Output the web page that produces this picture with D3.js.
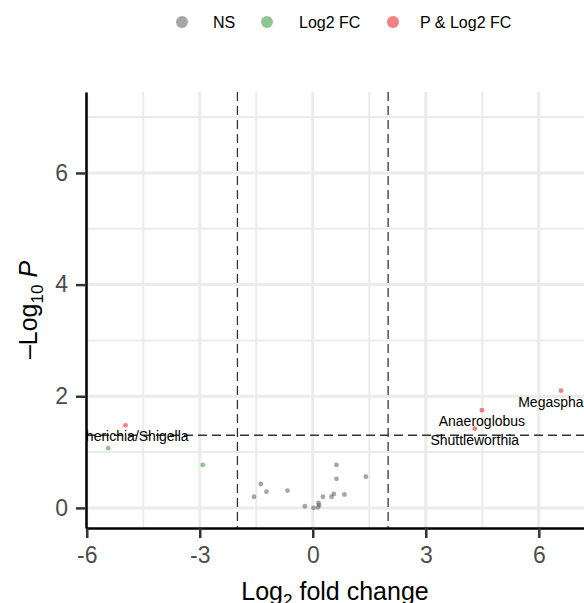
<!DOCTYPE html>
<html>
<head>
<meta charset="utf-8">
<script src="https://cdn.jsdelivr.net/npm/d3@7"></script>
<style>
  body { margin: 0; background: #fff; }
  svg { font-family: "Liberation Sans", Arial, Helvetica, sans-serif; display: block; }
</style>
</head>
<body>
<div id="chart"></div>
<script>
// data
var nsFC   = [0.63, -1.38, 1.41, 0.63, -1.56, -1.23, -0.67, 0.84, 0.56, 0.50, 0.27, 0.15, 0.14, -0.21, 0.02, 0.17];
var nsLogP = [0.77, 0.43, 0.56, 0.52, 0.20, 0.29, 0.31, 0.24, 0.25, 0.20, 0.20, 0.09, 0.01, 0.03, 0.00, 0.05];

var fcFC   = [-5.43, -2.92];
var fcLogP = [1.07, 0.77];

var sigFC    = [-4.97, 6.59, 4.49, 4.30];
var sigLogP  = [1.48, 2.10, 1.75, 1.42];
var sigLabel = ["Escherichia/Shigella", "Megasphaera", "Anaeroglobus", "Shuttleworthia"];

var legendLabels = ["NS", "Log2 FC", "P & Log2 FC"];
var xTicks = [-6, -3, 0, 3, 6];
var yTicks = [0, 2, 4, 6];
var xMinor = [-4.5, -1.5, 1.5, 4.5];
var yMinor = [1, 3, 5, 7];
var fcCutoff = 2;
var pCutoff = 0.05;

// set the dimensions and margins of the graph
var W = 584, H = 603;
var margin = { top: 92, right: 0, bottom: 75, left: 86 },
  width = W - margin.left - margin.right,
  height = H - margin.top - margin.bottom;

var colNS = "rgba(77,77,77,0.5)",
  colFC = "rgba(34,139,34,0.5)",
  colSig = "rgba(238,0,0,0.5)";

var svg = d3.select("#chart")
  .append("svg")
  .attr("width", W)
  .attr("height", H);

var g = svg.append("g")
  .attr("transform", "translate(" + margin.left + "," + margin.top + ")");

var x = d3.scaleLinear()
  .domain([-6.02, 7.2])
  .range([0, width]);

var y = d3.scaleLinear()
  .domain([-0.36, 7.45])
  .range([height, 0]);

// grid
g.append("g").selectAll("line.hminor")
  .data(yMinor).enter().append("line")
  .attr("x1", 0).attr("x2", width)
  .attr("y1", d => y(d)).attr("y2", d => y(d))
  .attr("stroke", "#ebebeb").attr("stroke-width", 2);
g.append("g").selectAll("line.vminor")
  .data(xMinor).enter().append("line")
  .attr("y1", 0).attr("y2", height)
  .attr("x1", d => x(d)).attr("x2", d => x(d))
  .attr("stroke", "#ebebeb").attr("stroke-width", 2);
g.append("g").selectAll("line.hmajor")
  .data(yTicks).enter().append("line")
  .attr("x1", 0).attr("x2", width)
  .attr("y1", d => y(d)).attr("y2", d => y(d))
  .attr("stroke", "#ebebeb").attr("stroke-width", 3);
g.append("g").selectAll("line.vmajor")
  .data(xTicks).enter().append("line")
  .attr("y1", 0).attr("y2", height)
  .attr("x1", d => x(d)).attr("x2", d => x(d))
  .attr("stroke", "#ebebeb").attr("stroke-width", 3);

// clip for marks
svg.append("defs").append("clipPath").attr("id", "panel")
  .append("rect").attr("width", width).attr("height", height);

var marks = g.append("g").attr("clip-path", "url(#panel)");

// cutoff lines
[-fcCutoff, fcCutoff].forEach(function(v) {
  marks.append("line")
    .attr("x1", x(v)).attr("x2", x(v))
    .attr("y1", 0).attr("y2", height)
    .attr("stroke", "#333").attr("stroke-width", 1.3)
    .attr("stroke-dasharray", "9,5");
});
marks.append("line")
  .attr("x1", 0).attr("x2", width)
  .attr("y1", y(-Math.log10(pCutoff))).attr("y2", y(-Math.log10(pCutoff)))
  .attr("stroke", "#333").attr("stroke-width", 1.3)
  .attr("stroke-dasharray", "9,5");

// points
function drawPoints(xs, ys, col) {
  marks.append("g").selectAll("circle")
    .data(xs.map((v, i) => [v, ys[i]]))
    .enter().append("circle")
    .attr("cx", d => x(d[0]))
    .attr("cy", d => y(d[1]))
    .attr("r", 2.4)
    .attr("fill", col);
}
drawPoints(nsFC, nsLogP, colNS);
drawPoints(fcFC, fcLogP, colFC);
drawPoints(sigFC, sigLogP, colSig);

// labels
marks.append("g").selectAll("text")
  .data(sigLabel)
  .enter().append("text")
  .attr("x", (d, i) => x(sigFC[i]))
  .attr("y", (d, i) => y(sigLogP[i]) + 16)
  .attr("text-anchor", "middle")
  .attr("font-size", 14)
  .attr("fill", "#000")
  .text(d => d);

// axes
var xAxis = g.append("g")
  .attr("transform", "translate(0," + height + ")")
  .call(d3.axisBottom(x).tickValues(xTicks).tickFormat(d => String(d))
    .tickSize(10).tickSizeOuter(0).tickPadding(9));
var yAxis = g.append("g")
  .call(d3.axisLeft(y).tickValues(yTicks).tickFormat(d => String(d))
    .tickSize(10).tickSizeOuter(0).tickPadding(8));

[xAxis, yAxis].forEach(function(a) {
  a.select(".domain").attr("stroke", "#000").attr("stroke-width", 2.5);
  a.selectAll(".tick line").attr("stroke", "#333").attr("stroke-width", 2.5);
  a.selectAll(".tick text")
    .attr("fill", "#4d4d4d")
    .attr("font-size", 23)
    .style("font-family", "'Liberation Sans', Arial, sans-serif");
});

// text label for the x axis
var xt = svg.append("text")
  .attr("x", margin.left + width / 2)
  .attr("y", 600)
  .attr("text-anchor", "middle")
  .attr("font-size", 25)
  .attr("fill", "#000");
xt.append("tspan").text("Log");
xt.append("tspan").attr("font-size", 17).attr("dy", 6).text("2");
xt.append("tspan").attr("dy", -6).text(" fold change");

// text label for the y axis
var yt = svg.append("text")
  .attr("transform", "translate(37," + (margin.top + height / 2) + ") rotate(-90)")
  .attr("text-anchor", "middle")
  .attr("font-size", 25)
  .attr("fill", "#000");
yt.append("tspan").text("\u2013Log");
yt.append("tspan").attr("font-size", 17).attr("dy", 6).text("10");
yt.append("tspan").attr("dy", -6).text(" ");
yt.append("tspan").attr("font-style", "italic").text("P");

// legend
var legX = [182, 267, 393];
var legTextX = [213, 299, 420];
var legCol = [colNS, colFC, colSig];
var leg = svg.append("g");
legendLabels.forEach(function(t, i) {
  leg.append("circle")
    .attr("cx", legX[i]).attr("cy", 22)
    .attr("r", 6)
    .attr("fill", legCol[i]);
  leg.append("text")
    .attr("x", legTextX[i])
    .attr("y", 28)
    .attr("font-size", 16)
    .attr("fill", "#000")
    .text(t);
});
</script>
</body>
</html>
